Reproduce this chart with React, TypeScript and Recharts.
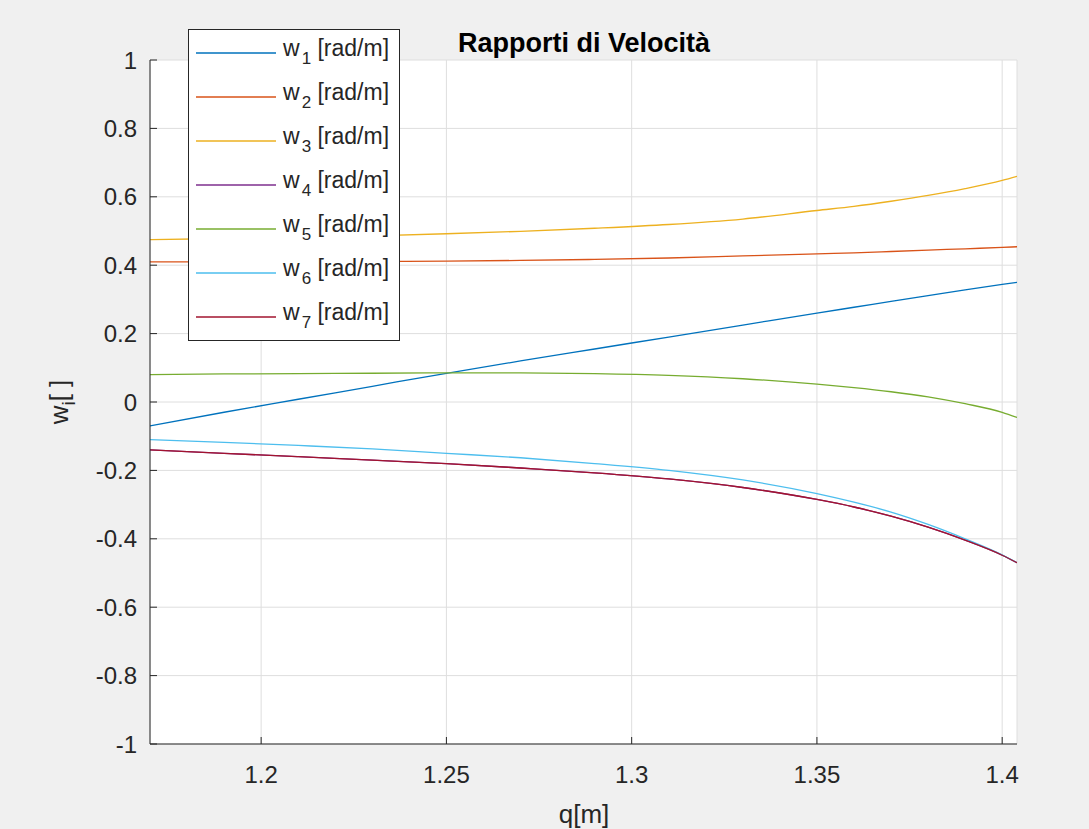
import { LineChart, Line, XAxis, YAxis, CartesianGrid, Legend, Label } from "recharts";

// q [m] sample positions
const qValues = [1.17, 1.19, 1.21, 1.23, 1.25, 1.27, 1.29, 1.31, 1.33, 1.35, 1.36, 1.37, 1.38, 1.39, 1.4, 1.404];

const w1 = [-0.07, -0.03, 0.008, 0.046, 0.084, 0.12, 0.155, 0.19, 0.225, 0.26, 0.277, 0.294, 0.311, 0.328, 0.344, 0.35];
const w2 = [0.41, 0.41, 0.41, 0.411, 0.412, 0.414, 0.417, 0.421, 0.427, 0.433, 0.436, 0.44, 0.444, 0.448, 0.452, 0.454];
const w3 = [0.475, 0.478, 0.482, 0.486, 0.492, 0.499, 0.508, 0.519, 0.535, 0.56, 0.572, 0.587, 0.604, 0.624, 0.648, 0.66];
const w4 = [-0.14, -0.15, -0.16, -0.17, -0.18, -0.193, -0.207, -0.225, -0.25, -0.285, -0.307, -0.334, -0.366, -0.404, -0.448, -0.47];
const w5 = [0.08, 0.082, 0.083, 0.084, 0.085, 0.085, 0.083, 0.078, 0.068, 0.052, 0.042, 0.03, 0.015, -0.005, -0.03, -0.045];
const w6 = [-0.11, -0.118, -0.127, -0.137, -0.15, -0.163, -0.18, -0.2, -0.228, -0.268, -0.293, -0.322, -0.358, -0.4, -0.447, -0.47];
const w7 = [-0.14, -0.15, -0.16, -0.17, -0.18, -0.193, -0.207, -0.225, -0.25, -0.285, -0.307, -0.334, -0.366, -0.404, -0.448, -0.47];

const seriesKeys = ["w1", "w2", "w3", "w4", "w5", "w6", "w7"];
const seriesColors = ["#0072BD", "#D95319", "#EDB120", "#7E2F8E", "#77AC30", "#4DBEEE", "#A2142F"];

const xTicks = [1.2, 1.25, 1.3, 1.35, 1.4];
const yTicks = [-1, -0.8, -0.6, -0.4, -0.2, 0, 0.2, 0.4, 0.6, 0.8, 1];

const seriesValues = [w1, w2, w3, w4, w5, w6, w7];
const data = qValues.map((q, i) => {
  const row: any = { q };
  seriesKeys.forEach((k, j) => {
    row[k] = seriesValues[j][i];
  });
  return row;
});

const FONT = "'Liberation Sans', Arial, Helvetica, sans-serif";
const INK = "#262626";

function LegendBox({ payload }: any) {
  return (
    <div
      style={{
        background: "#fff",
        border: "1px solid #262626",
        width: 210,
        padding: "1px 0",
        fontFamily: FONT,
        color: INK,
      }}
    >
      {(payload || []).map((p: any, i: number) => (
        <div key={i} style={{ display: "flex", alignItems: "center", height: 44 }}>
          <svg width={87} height={4} style={{ marginLeft: 7 }}>
            <line x1={0} y1={2} x2={80} y2={2} stroke={p.color} strokeWidth={1.3} />
          </svg>
          <span style={{ fontSize: 23, whiteSpace: "nowrap", lineHeight: "26px" }}>
            w<sub style={{ fontSize: 17, verticalAlign: -8, marginLeft: 2 }}>{String(p.value).slice(1)}</sub> [rad/m]
          </span>
        </div>
      ))}
    </div>
  );
}

export default function App() {
  return (
    <div
      style={{
        position: "absolute",
        left: 0,
        top: 0,
        width: 1089,
        height: 829,
        background: "#f0f0f0",
      }}
    >
      <LineChart
        width={1089}
        height={829}
        data={data}
        margin={{ top: 60, right: 72, left: 0, bottom: 0 }}
        style={{ fontFamily: FONT }}
      >
        <CartesianGrid stroke="#dedede" fill="#ffffff" />
        <XAxis
          dataKey="q"
          type="number"
          domain={[1.17, 1.404]}
          ticks={xTicks}
          allowDataOverflow
          height={85}
          tickSize={-7}
          tickMargin={29}
          stroke={INK}
          tick={{ fill: INK, fontSize: 24 }}
          tickFormatter={(v: number) => String(v)}
        >
          <Label
            content={() => (
              <text x={584} y={823} textAnchor="middle" fontSize={26} fill={INK}>
                q[m]
              </text>
            )}
          />
        </XAxis>
        <YAxis
          type="number"
          domain={[-1, 1]}
          ticks={yTicks}
          width={150}
          tickSize={-7}
          tickMargin={20}
          stroke={INK}
          tick={{ fill: INK, fontSize: 24 }}
          tickFormatter={(v: number) => String(v)}
        >
          <Label
            content={() => (
              <text
                x={68}
                y={402}
                transform="rotate(-90 68 402)"
                textAnchor="middle"
                fontSize={26}
                fill={INK}
              >
                w<tspan dy={7} fontSize={19}>i</tspan>
                <tspan dy={-7}>[ ]</tspan>
              </text>
            )}
          />
        </YAxis>
        {seriesKeys.map((k, i) => (
          <Line
            key={k}
            type="monotone"
            dataKey={k}
            name={k}
            stroke={seriesColors[i]}
            strokeWidth={1.3}
            dot={false}
            activeDot={false}
            isAnimationActive={false}
          />
        ))}
        <Legend
          layout="vertical"
          align="center"
          verticalAlign="middle"
          content={<LegendBox />}
          wrapperStyle={{ left: 188, top: 29, width: 212 }}
        />
        <text x={584} y={52} textAnchor="middle" fontSize={27} fontWeight="bold" fill="#000">
          Rapporti di Velocità
        </text>
      </LineChart>
    </div>
  );
}
